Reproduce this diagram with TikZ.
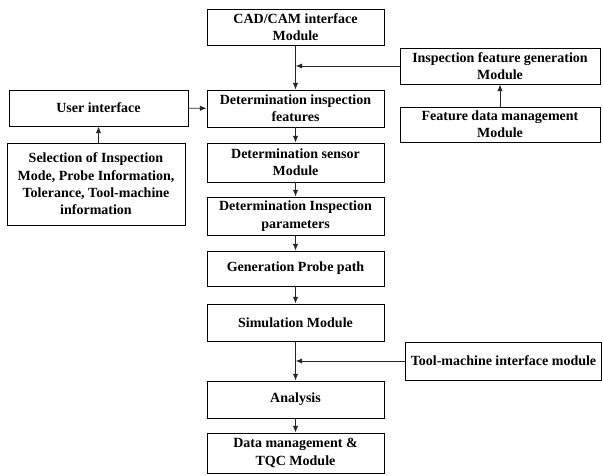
\documentclass[tikz,border=0pt]{standalone}
\usepackage{fontspec}
\setmainfont{Liberation Serif}
\usepackage{tikz}
\usetikzlibrary{arrows.meta, positioning, shadows, calc}

\tikzset{
    box/.style={draw, line width=0.6pt, fill=white, align=center, inner sep=1pt,
        font=\fontsize{10.5}{13}\selectfont\bfseries,
        drop shadow={shadow xshift=0.6pt, shadow yshift=-0.6pt, opacity=0.9, fill=black}},
    colbox/.style={box, minimum width=132.75pt},
    arr/.style={-{Latex[length=5pt, width=4pt]}, line width=0.7pt, black!85}
}

\begin{document}
\begin{tikzpicture}[x=0.75pt, y=-0.75pt]
    \useasboundingbox (0,0) rectangle (603,475);

    % main column
    \node[colbox, minimum height=27pt] (cad) at (295.5, 27) {CAD/CAM interface\\Module};
    \node[colbox, minimum height=27.75pt] (dif) at (295.5, 108.5) {Determination inspection\\features};
    \node[colbox, minimum height=29.25pt] (dsm) at (295.5, 162.5) {Determination sensor\\Module};
    \node[colbox, minimum height=28.5pt] (dip) at (295.5, 216) {Determination Inspection\\parameters};
    \node[colbox, minimum height=26.25pt] (gpp) at (295.5, 268.5) {Generation Probe path};
    \node[colbox, minimum height=27.75pt] (sim) at (295.5, 322.5) {Simulation Module};
    \node[colbox, minimum height=27.75pt] (ana) at (295.5, 399.5) {Analysis};
    \node[colbox, minimum height=30pt] (dm) at (295.5, 453) {Data management \&\\TQC Module};

    % left side
    \node[box, minimum width=134.25pt, minimum height=27pt] (ui) at (98.5, 108) {User interface};
    \node[box, minimum width=133.5pt, minimum height=61.5pt] (sel) at (96, 184)
        {Selection of Inspection\\Mode, Probe Information,\\Tolerance, Tool-machine\\information};

    % right side
    \node[box, minimum width=150pt, minimum height=27pt] (ifg) at (500, 66) {Inspection feature generation\\Module};
    \node[box, minimum width=150pt, minimum height=26.25pt] (fdm) at (500, 124.5) {Feature data management\\Module};
    \node[box, minimum width=147pt, minimum height=28.5pt] (tmi) at (503.5, 361) {Tool-machine interface module};

    \coordinate (j1) at (cad.south |- ifg.west);
    \coordinate (j2) at (sim.south |- tmi.west);

    \draw[arr] (cad) -- (dif);
    \foreach \a/\b in {dif/dsm, dsm/dip, dip/gpp, gpp/sim, sim/ana, ana/dm}
        \draw[arr] (\a) -- (\b);
    \draw[arr] (ifg.west) -- (j1);
    \draw[arr] (fdm) -- (ifg);
    \draw[arr] (ui) -- (dif);
    \draw[arr] (sel.north -| ui.south) -- (ui);
    \draw[arr] (tmi.west) -- (j2);
\end{tikzpicture}
\end{document}
